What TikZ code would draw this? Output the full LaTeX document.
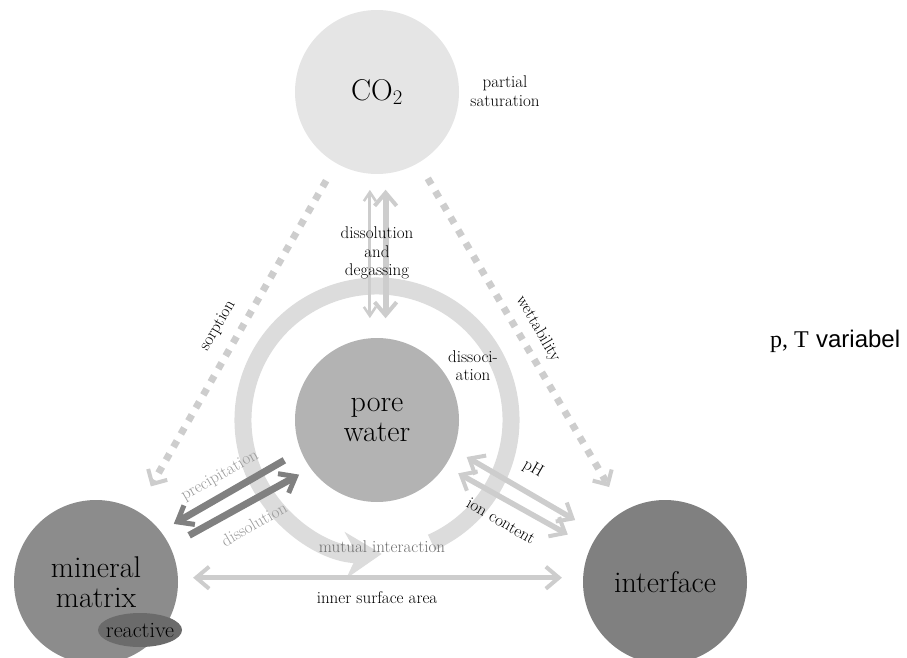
\documentclass[tikz,border=0pt]{standalone}
\usepackage{fontspec}
\newfontfamily\pTserif{Liberation Serif}
\newfontfamily\pTsans{Liberation Sans}
\usepackage{xcolor}
\usepackage{tikz}
\usetikzlibrary{shapes.geometric, arrows.meta}
\definecolor{geoCOFill}{HTML}{E5E5E5}
\definecolor{geoPoreFill}{HTML}{B3B3B3}
\definecolor{geoMineralFill}{HTML}{8C8C8C}
\definecolor{geoInterfaceFill}{HTML}{808080}
\definecolor{geoReactiveFill}{HTML}{6B6B6B}
\definecolor{geoRing}{HTML}{DCDCDC}
\definecolor{geoLight}{HTML}{CDCDCD}
\definecolor{geoDark}{HTML}{808080}
\definecolor{geoMidText}{HTML}{9A9A9A}
\definecolor{geoMutual}{HTML}{707070}
\tikzset{
  geo/phase/.style     = {circle, minimum size=164pt, inner sep=0pt, align=center,
                          font=\fontsize{30}{30}\selectfont},
  geo/co2/.style       = {geo/phase, fill=geoCOFill},
  geo/pore/.style      = {geo/phase, fill=geoPoreFill},
  geo/mineral/.style   = {geo/phase, fill=geoMineralFill},
  geo/interface/.style = {geo/phase, fill=geoInterfaceFill},
  geo/reactive/.style  = {ellipse, fill=geoReactiveFill, minimum width=84pt, minimum height=34pt,
                          inner sep=0pt, font=\fontsize{22}{24}\selectfont},
  geo/label/.style     = {align=center, inner sep=1pt, font=\fontsize{17}{19}\selectfont},
  geo/ring/.style      = {-{Stealth[length=36pt, width=46pt]}, line width=17pt, draw=geoRing},
  geo/dashed/.style    = {-{Straight Barb[length=11pt, width=22pt, line width=4pt]}, line width=7pt,
                          draw=geoLight, dash pattern=on 7pt off 8pt},
  geo/thin/.style      = {{Straight Barb[length=9pt, width=12pt, line width=2.5pt]}-{Straight Barb[length=9pt, width=12pt, line width=2.5pt]},
                          line width=3pt, draw=geoLight},
  geo/biarrow/.style   = {{Straight Barb[length=13pt, width=22pt, line width=4pt]}-{Straight Barb[length=13pt, width=22pt, line width=4pt]},
                          line width=5.5pt, draw=geoLight},
  geo/arrowd/.style    = {-{Straight Barb[length=14pt, width=22pt, line width=5pt]}, line width=7pt, draw=geoDark},
}

\begin{document}
\begin{tikzpicture}[x=1pt, y=1pt]
  \useasboundingbox (0,0) rectangle (907,657);
  % phases
  \node[geo/co2] (co2) at (377,565) {CO$_2$};
  \node[geo/pore] (pore) at (377,237) {pore\\water};
  \node[geo/mineral] (mineral) at (96,75) {mineral\\matrix};
  \node[geo/interface] (iface) at (665,75) {interface};
  \node[geo/reactive] (reactive) at (140,27) {\makebox[0pt]{reactive}};
  % mutual interaction ring
  \draw[geo/ring] (pore.center) ++(-66:134) arc[start angle=-66, end angle=272, radius=134];
  % arrows
  \draw[geo/dashed, shorten <=20pt, shorten >=28pt] (co2) -- (mineral);
  \draw[geo/dashed, shorten <=18pt, shorten >=28pt] (co2) -- (iface);
  \draw[geo/thin, shorten <=16pt, shorten >=20pt] (co2.265) -- (pore.95);
  \draw[geo/biarrow, line width=6pt, shorten <=16pt, shorten >=20pt] (co2.276) -- (pore.84);
  \draw[geo/arrowd, shorten <=19pt, shorten >=15pt] (pore.202) -- (mineral.38);
  \draw[geo/arrowd, shorten <=22pt, shorten >=13pt] (mineral.26) -- (pore.216);
  \draw[geo/biarrow, shorten <=15pt, shorten >=27pt] (pore.-21) -- (iface.144);
  \draw[geo/biarrow, shorten <=15pt, shorten >=26pt] (pore.-34) -- (iface.155);
  \draw[geo/biarrow, shorten <=15pt, shorten >=21pt] (mineral.3) -- (iface.177);
  % labels
  \node[geo/label] (satur) at (505,566) {partial\\saturation};
  \node[geo/label, font=\fontsize{17}{18.5}\selectfont] (dissgas) at (377,404) {dissolution\\and\\degassing};
  \node[geo/label, font=\fontsize{17}{18}\selectfont] (dissoc) at (473,291) {dissoci-\\ation};
  \node[geo/label, rotate=60] (sorp) at (218,331) {sorption};
  \node[geo/label, rotate=-60] (wett) at (538,328) {wettability};
  \node[geo/label, rotate=30, text=geoMidText] (precip) at (220,181) {precipitation};
  \node[geo/label, rotate=30, text=geoMidText] (dissol) at (254,133) {dissolution};
  \node[geo/label, rotate=-30] (ph) at (533,188) {pH};
  \node[geo/label, rotate=-30] (ion) at (501,136) {ion content};
  \node[geo/label, text=geoMutual] (mutual) at (382,110) {mutual interaction};
  \node[geo/label] (isa) at (377,59) {inner surface area};
  \node[anchor=base west, inner sep=0pt, font=\fontsize{24}{26}\selectfont] (pT) at (770,310)
        {{\pTserif p, T} {\pTsans variabel}};
\end{tikzpicture}
\end{document}
